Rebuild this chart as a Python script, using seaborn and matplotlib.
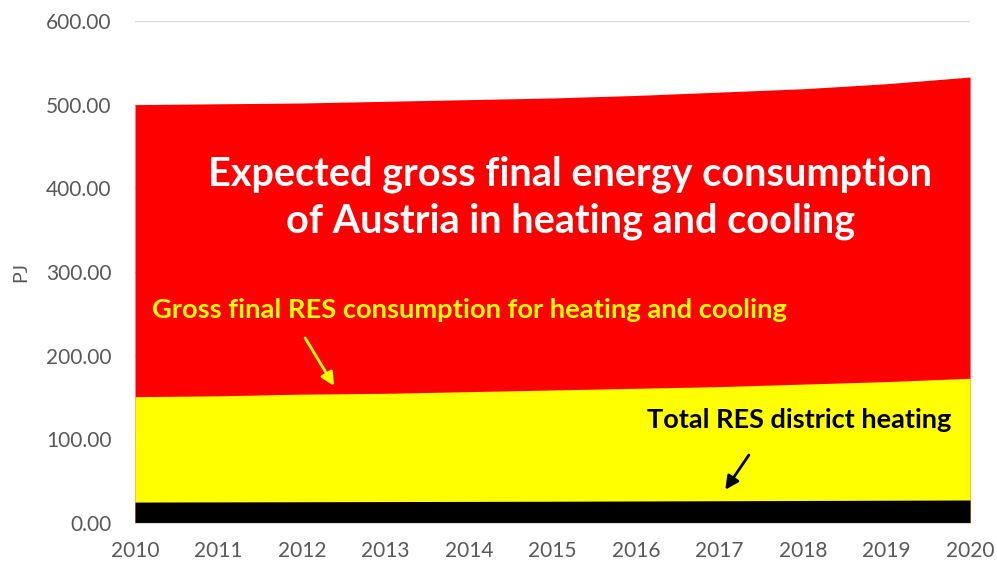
import matplotlib
matplotlib.use("Agg")
import matplotlib.pyplot as plt
import seaborn as sns
import pandas as pd

years = [2010, 2011, 2012, 2013, 2014, 2015, 2016, 2017, 2018, 2019, 2020]
total_consumption = [500, 501, 502, 504, 506, 508, 511, 515, 519, 525, 533]
res_heating_cooling = [151, 152, 154, 155, 157, 159, 161, 163, 166, 169, 173]
res_district_heating = [25.0, 25.2, 25.4, 25.6, 25.8, 26.0, 26.3, 26.6, 26.9, 27.2, 27.5]

df = pd.DataFrame({
    "year": years,
    "total": total_consumption,
    "res": res_heating_cooling,
    "district": res_district_heating,
})

sns.set_style("white")
plt.rcParams['font.family'] = ['Lato', 'DejaVu Sans']

fig = plt.figure(figsize=(9.97, 5.67), dpi=100)
ax = fig.add_axes([0.1354, 0.0776, 0.8376, 0.8854])

# overlapping areas, drawn largest first
for col, color in [("total", "#ff0000"), ("res", "#ffff00"), ("district", "#000000")]:
    ax.fill_between(df["year"], 0, df[col], color=color, linewidth=0, zorder=2)

ax.set_xlim(2010, 2020)
ax.set_ylim(0, 600)
ax.set_xticks(years)
ax.set_yticks(range(0, 601, 100))
ax.set_yticklabels([f"{v:.2f}" for v in range(0, 601, 100)])
ax.yaxis.grid(True, color="#d9d9d9", linewidth=1, zorder=0)
ax.set_axisbelow(True)

for s in ["top", "right", "left"]:
    ax.spines[s].set_visible(False)
ax.spines["bottom"].set_color("#d9d9d9")
ax.spines["bottom"].set_zorder(3)
ax.tick_params(axis="x", length=6, color="#d9d9d9", colors="#595959", labelsize=15, pad=7)
ax.tick_params(axis="y", length=0, colors="#595959", labelsize=15, pad=17)
for lbl in ax.get_xticklabels():
    lbl.set_color("#595959")
ax.set_ylabel("PJ", fontsize=14, color="#595959", labelpad=12)

ax.text(2015.21, 389, "Expected gross final energy consumption\nof Austria in heating and cooling",
        ha="center", va="center", color="white", fontsize=28.5, fontweight="bold",
        linespacing=1.32, zorder=5)
ax.text(2010.2, 254, "Gross final RES consumption for heating and cooling",
        ha="left", va="center", color="#ffff00", fontsize=19.7, fontweight="bold", zorder=5)
ax.annotate("", xy=(2012.4, 161), xytext=(2012.02, 224),
            arrowprops=dict(arrowstyle="-|>", color="#ffff00", lw=2, mutation_scale=20), zorder=5)
ax.text(2016.13, 123, "Total RES district heating",
        ha="left", va="center", color="black", fontsize=19.5, fontweight="bold", zorder=5)
ax.annotate("", xy=(2017.05, 37), xytext=(2017.37, 84),
            arrowprops=dict(arrowstyle="-|>", color="black", lw=2, mutation_scale=20), zorder=5)

fig.savefig("out.png", dpi=100)
